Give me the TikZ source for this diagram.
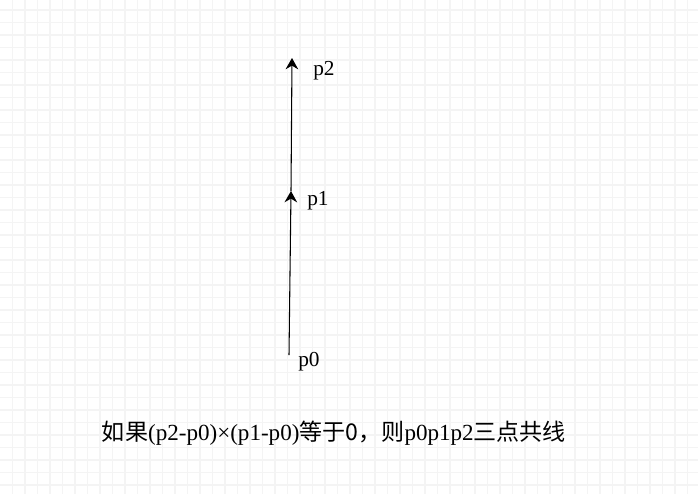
\documentclass[tikz,border=0pt]{standalone}
\usepackage{fontspec}
\setmainfont{Liberation Serif}
\newfontfamily\cjk{Noto Sans CJK SC}
\usetikzlibrary{arrows.meta,positioning}

\begin{document}
\begin{tikzpicture}[x=0.75pt,y=-0.75pt,
    lbl/.style = {anchor=west, inner sep=0pt, font=\fontsize{16pt}{18pt}\selectfont},
    vec/.style = {->, >={Stealth[length=8.5pt,width=9.5pt,inset=2.8pt]}, line width=0.8pt, color=black}]
                % background grid
                \useasboundingbox (0,0) rectangle (698,494);
                \fill[white] (0,0) rectangle (698,494);
                \foreach \i in {1,...,55}
                    \draw[color=gray!9, line width=0.9pt] (12.5*\i,0) -- (12.5*\i,494);
                \foreach \j in {0,...,38}
                    \draw[color=gray!9, line width=0.9pt] (0,10+12.5*\j) -- (698,10+12.5*\j);
                % the three points
                \coordinate (p0) at (289,355);
                \coordinate (p1) at (291,191);
                \coordinate (p2) at (292,58);
                \node[lbl] (l0) at (298,362) {p0};
                \node[lbl] (l1) at (307,201) {p1};
                \node[lbl] (l2) at (313,71) {p2};
                \path[vec]
                    (p0) edge (p1)
                    (p1) edge (p2);
                \node[inner sep=0pt, font=\fontsize{17.3pt}{20pt}\selectfont] (cap) at (334,433)
                    {{\cjk 如果}(p2-p0)×(p1-p0){\cjk 等于0，则}p0p1p2{\cjk 三点共线}};
            \end{tikzpicture}
\end{document}
